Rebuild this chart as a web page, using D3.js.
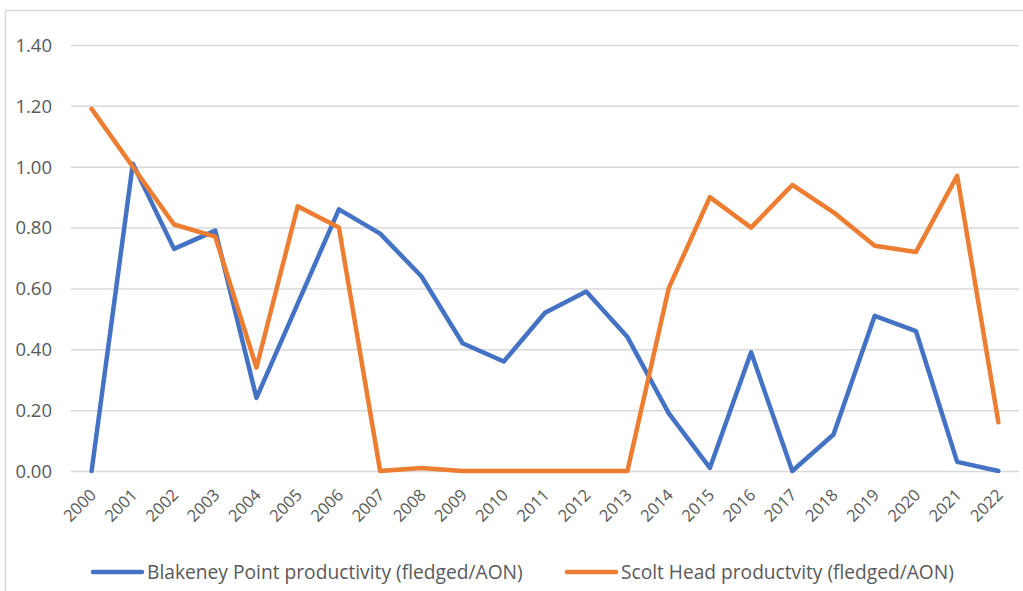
<!DOCTYPE html>
<html><head><meta charset="utf-8">
<script src="https://cdn.jsdelivr.net/npm/d3@7"></script>
<style>body{margin:0;background:#fff;} svg{display:block;}</style>
</head><body>
<svg id="c" width="1023" height="591"></svg>
<script>
const years = ["2000","2001","2002","2003","2004","2005","2006","2007","2008","2009","2010","2011","2012","2013","2014","2015","2016","2017","2018","2019","2020","2021","2022"];
const blakeney = [0,1.01,0.73,0.79,0.24,0.55,0.86,0.78,0.64,0.42,0.36,0.52,0.59,0.44,0.19,0.01,0.39,0,0.12,0.51,0.46,0.03,0];
const scolt = [1.19,1.0,0.81,0.77,0.34,0.87,0.8,0,0.01,0,0,0,0,0,0.6,0.9,0.8,0.94,0.85,0.74,0.72,0.97,0.16];
const yTicks = [0,0.2,0.4,0.6,0.8,1.0,1.2,1.4];
const seriesNames = ["Blakeney Point productivity (fledged/AON)","Scolt Head productvity (fledged/AON)"];
const colors = ["#4472C4","#ED7D31"];

const svg = d3.select("#c");
const font = "'Open Sans', sans-serif";
svg.append("rect").attr("x",5.5).attr("y",10.5).attr("width",1030).attr("height",600)
  .attr("fill","#fff").attr("stroke","#d9d9d9").attr("stroke-width",1.5);

const pLeft=71, pRight=1019, pTop=45, pBottom=471;
const x = d3.scalePoint().domain(years).range([pLeft,pRight]).padding(0.5);
const y = d3.scaleLinear().domain([0,1.4]).range([pBottom,pTop]);

const yAxis = d3.axisLeft(y).tickValues(yTicks).tickFormat(d3.format(".2f")).tickSize(-(pRight-pLeft)).tickPadding(19);
const gy = svg.append("g").attr("transform",`translate(${pLeft},0)`).call(yAxis);
gy.select(".domain").remove();
gy.selectAll(".tick line").attr("stroke","#d9d9d9").attr("stroke-width",1.5);
gy.selectAll(".tick text").attr("fill","#595959").style("font-family",font).style("font-size","18.5px").attr("dy","0.34em");

const xAxis = d3.axisBottom(x).tickSize(0).tickPadding(0);
const gx = svg.append("g").attr("transform",`translate(0,${pBottom})`).call(xAxis);
gx.select(".domain").remove();
gx.selectAll(".tick text").attr("fill","#595959").style("font-family",font).style("font-size","16.5px")
  .attr("text-anchor","end").attr("dy","0").attr("y",0)
  .attr("transform","translate(5,25) rotate(-45)");

const line = d3.line().x((d,i)=>x(years[i])).y(d=>y(d));
[blakeney,scolt].forEach((s,k)=>{
  svg.append("path").datum(s).attr("d",line).attr("fill","none")
    .attr("stroke",colors[k]).attr("stroke-width",4.5).attr("stroke-linejoin","round").attr("stroke-linecap","round");
});

const legX = [93,567];
const legW = [376,333];
seriesNames.forEach((n,k)=>{
  svg.append("line").attr("x1",legX[k]).attr("x2",legX[k]+49).attr("y1",572).attr("y2",572)
    .attr("stroke",colors[k]).attr("stroke-width",4.5).attr("stroke-linecap","round");
  const t = svg.append("text").attr("x",legX[k]+54).attr("y",579).text(n)
    .attr("fill","#595959").style("font-family",font).style("font-size","17px");
  const w = t.node().getComputedTextLength();
  t.style("font-size",(17*legW[k]/w).toFixed(2)+"px");
});
</script>
</body></html>
